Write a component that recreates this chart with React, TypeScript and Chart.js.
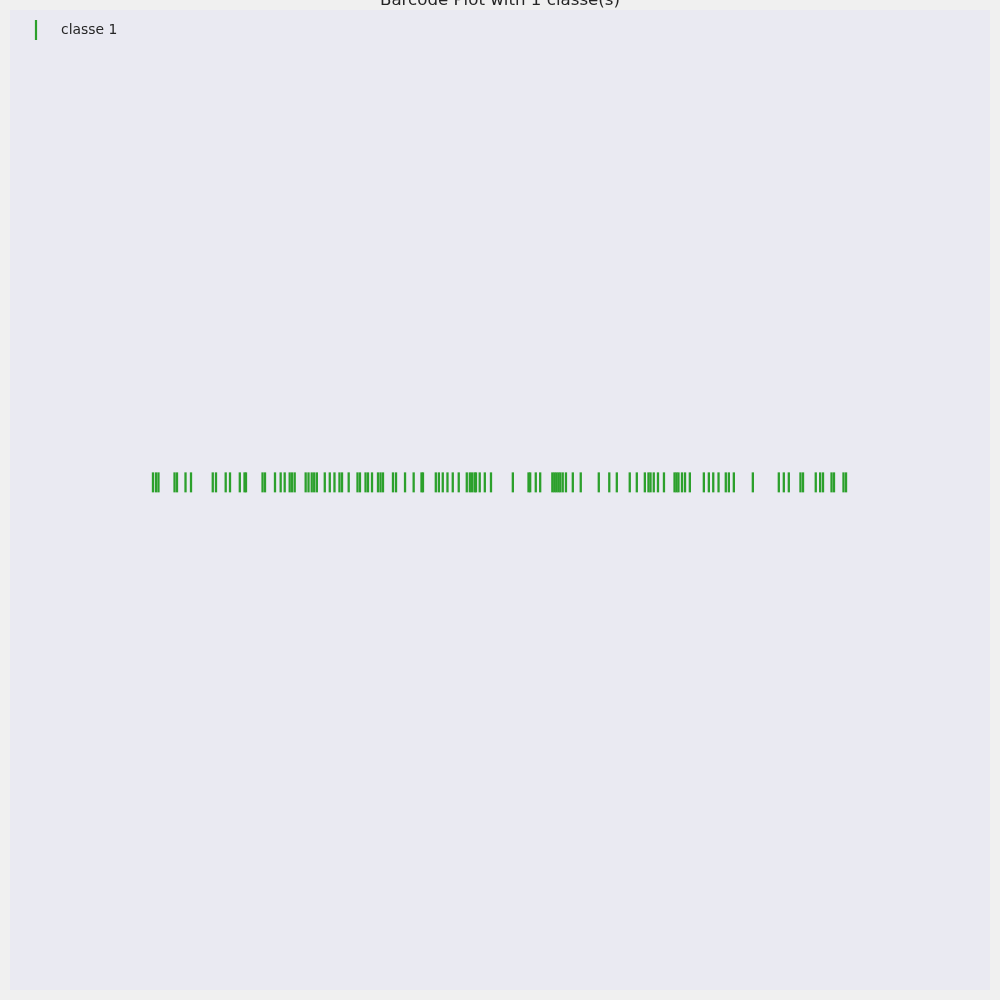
import React, { useEffect, useRef } from "react";
import { Chart, registerables } from "chart.js";

Chart.register(...registerables);

const TITLE = "Barcode Plot with 1 classe(s)";
const SERIES_LABEL = "classe 1";
const SERIES_COLOR = "#2ca02c";

// Event positions of "classe 1" (x axis runs 0..100)
const classe1Values: number[] = [
  14.59, 14.9, 15.15, 16.79, 17.04, 17.91, 18.47, 20.69, 21.02, 22.01, 22.45,
  23.45, 23.93, 24.08, 25.77, 26.02, 27.04, 27.62, 28.03, 28.54, 28.78, 29.05,
  30.17, 30.46, 30.79, 31.04, 31.31, 32.12, 32.63, 33.11, 33.62, 33.88, 34.56,
  35.46, 35.71, 36.28, 36.53, 36.94, 37.55, 37.81, 38.06, 39.08, 39.39, 40.31,
  41.19, 41.99, 42.14, 43.45, 43.76, 44.16, 44.64, 45.18, 45.79, 46.61, 46.92,
  47.14, 47.4, 47.55, 47.93, 48.45, 49.08, 51.31, 52.91, 53.08, 53.65, 54.1,
  55.34, 55.54, 55.74, 55.95, 56.15, 56.4, 56.73, 57.43, 58.24, 60.08, 61.15,
  61.92, 63.24, 63.96, 64.78, 65.15, 65.36, 65.69, 66.12, 66.73, 67.81, 68.01,
  68.21, 68.57, 68.88, 69.37, 70.8, 71.31, 71.76, 72.3, 73.04, 73.35, 73.86,
  75.8, 78.45, 78.96, 79.47, 80.66, 80.92, 82.22, 82.67, 82.96, 83.83, 84.08,
  85.05, 85.31,
];
const classe1Offset = 0;

const X_MIN = 0;
const X_MAX = 100;
const Y_MIN = -0.518;
const Y_MAX = 0.482;

export default function App() {
  const canvasRef = useRef<HTMLCanvasElement | null>(null);

  useEffect(() => {
    const canvas = canvasRef.current;
    if (!canvas) return;

    const bgPlugin = {
      id: "bgPlugin",
      beforeDraw(chart: any) {
        const { ctx, chartArea } = chart;
        ctx.save();
        ctx.fillStyle = "#f0f0f0";
        ctx.fillRect(0, 0, chart.width, chart.height);
        ctx.fillStyle = "#eaeaf2";
        ctx.fillRect(
          chartArea.left,
          chartArea.top,
          chartArea.right - chartArea.left,
          chartArea.bottom - chartArea.top
        );
        ctx.restore();
      },
      afterDraw(chart: any) {
        const { ctx } = chart;
        ctx.save();
        // title (partially above the canvas, as in the reference)
        ctx.fillStyle = "#262626";
        ctx.font = '16.67px "DejaVu Sans"';
        ctx.textAlign = "center";
        ctx.textBaseline = "alphabetic";
        ctx.fillText(TITLE, 500, 5);
        // legend
        ctx.strokeStyle = SERIES_COLOR;
        ctx.lineWidth = 2.2;
        ctx.beginPath();
        ctx.moveTo(36, 20);
        ctx.lineTo(36, 40);
        ctx.stroke();
        ctx.fillStyle = "#262626";
        ctx.font = '13.9px "DejaVu Sans"';
        ctx.textAlign = "left";
        ctx.fillText(SERIES_LABEL, 61, 34);
        ctx.restore();
      },
    };

    const chart = new Chart(canvas, {
      type: "scatter",
      data: {
        datasets: [
          {
            label: SERIES_LABEL,
            data: classe1Values.map((v) => ({ x: v, y: classe1Offset })),
            pointStyle: "line",
            rotation: 90,
            radius: 10,
            hoverRadius: 10,
            borderWidth: 2.3,
            borderColor: SERIES_COLOR,
            backgroundColor: SERIES_COLOR,
          },
        ],
      },
      options: {
        animation: false,
        responsive: false,
        maintainAspectRatio: false,
        devicePixelRatio: 1,
        layout: { padding: 10, autoPadding: false },
        plugins: {
          legend: { display: false },
          title: { display: false },
          tooltip: { enabled: false },
        },
        scales: {
          x: { type: "linear", min: X_MIN, max: X_MAX, display: false },
          y: { type: "linear", min: Y_MIN, max: Y_MAX, display: false },
        },
      },
      plugins: [bgPlugin],
    });

    return () => chart.destroy();
  }, []);

  return (
    <div style={{ position: "absolute", left: 0, top: 0, width: 1000, height: 1000 }}>
      <canvas ref={canvasRef} width={1000} height={1000} style={{ display: "block" }} />
    </div>
  );
}
